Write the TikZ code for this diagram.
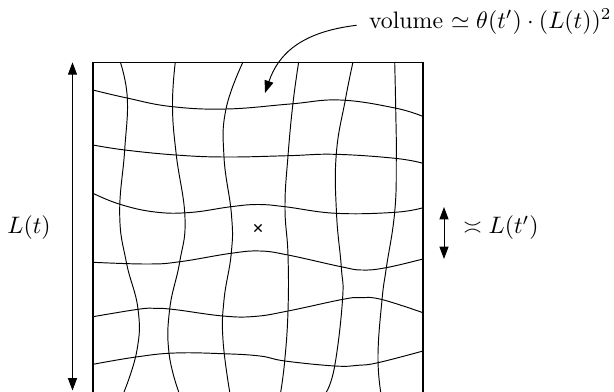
\documentclass[tikz,border=0pt]{standalone}
\usepackage{amsmath,amssymb}
\usetikzlibrary{arrows.meta,calc}
\begin{document}
\begin{tikzpicture}[x=0.42pt,y=-0.42pt,
  gridline/.style={line width=0.4pt,line join=round},
  boxline/.style={line width=0.65pt},
  dimarrow/.style={line width=0.4pt,{Triangle[length=5.2pt,width=3.8pt]}-{Triangle[length=5.2pt,width=3.8pt]}},
  pointer/.style={line width=0.4pt,-{Triangle[length=5.2pt,width=3.8pt]}},
  lbl/.style={inner sep=0pt,font=\normalsize}]
\useasboundingbox (0,0) rectangle (614,391);
% horizontal wavy lines
\draw[gridline] plot[smooth,tension=0.7] coordinates {(93,90) (127,98) (171,106.5) (226,109) (290,104) (340,100) (395,108) (423,116.5)};
\draw[gridline] plot[smooth,tension=0.7] coordinates {(93,145) (125,150) (176,155) (225,157) (288,155.7) (335,154.3) (395,158.3) (423,163.3)};
\draw[gridline] plot[smooth,tension=0.7] coordinates {(93,193.3) (120,204.3) (155,212) (190,212.5) (231,206.7) (258,204.5) (285,206.7) (336,213.3) (395,212.3) (423,207.7)};
\draw[gridline] plot[smooth,tension=0.7] coordinates {(93,262.3) (148,264) (180,261.7) (231,253.3) (260,251) (288,255) (341,266.7) (362,270) (386,267.7) (423,259)};
\draw[gridline] plot[smooth,tension=0.7] coordinates {(93,316.7) (138,309.3) (155,308.3) (175,309.6) (223,316) (255,316.4) (288,311) (343,299.3) (360,297.7) (381,299.3) (423,312.7)};
\draw[gridline] plot[smooth,tension=0.7] coordinates {(93,364.3) (136,357) (175,353) (223,353.7) (260,356) (285,361) (335,366) (358,365.3) (378,362.7) (423,351)};
% vertical wavy lines
\draw[gridline] plot[smooth,tension=0.75] coordinates {(120.3,62) (127.3,98) (124.7,150) (119.7,214) (126.3,262) (138,309) (137,350) (124,392)};
\draw[gridline] plot[smooth,tension=0.75] coordinates {(175.3,62) (172.5,106) (176.3,155) (185,218) (179.7,262) (169.7,309) (169,353) (178.7,392)};
\draw[gridline] plot[smooth,tension=0.75] coordinates {(243,62) (226,109) (224,157) (231.5,215) (231.3,253) (224,300) (223,340) (229.7,392)};
\draw[gridline] plot[smooth,tension=0.75] coordinates {(298.7,62) (293,103) (288,156) (285,207) (288,255) (288,311) (284.7,361) (280.7,392)};
\draw[gridline] plot[smooth,tension=0.75] coordinates {(353,62) (345.3,100) (336.3,154) (336.5,213) (341.3,267) (342.5,300) (334.7,366) (326.3,392)};
\draw[gridline] plot[smooth,tension=0.75] coordinates {(394.7,62) (395.7,108) (396.3,158) (394.7,212) (386.3,268) (382,300) (378,355) (380.7,392)};
% box (open at the bottom of the view)
\draw[boxline] (93,396) -- (93,62.3) -- (423,62.3) -- (423,396);
% centre mark
\coordinate (mark) at (258,228);
\draw[line width=0.55pt] ($(mark)+(-3.6,-3.6)$) -- ($(mark)+(3.6,3.6)$);
\draw[line width=0.55pt] ($(mark)+(-3.6,3.6)$) -- ($(mark)+(3.6,-3.6)$);
% labels
\node[lbl,anchor=base east] (vol) at (612,28) {volume $\simeq \theta(t')\cdot(L(t))^2$};
\node[lbl] (Lt) at (29,228) {$L(t)$};
\node[lbl,anchor=west] (Ltp) at (463,228) {$\asymp L(t')$};
% arrows
\coordinate (vtop) at (72.5,62.3);
\coordinate (vbot) at (72.5,390.5);
\draw[dimarrow] (vtop) -- (vbot);
\coordinate (stop) at (444,207);
\coordinate (sbot) at (444,259);
\draw[dimarrow] (stop) -- (sbot);
\coordinate (tip) at (265,93);
\coordinate (vstart) at ($(vol.west)+(-12,4)$);
\draw[pointer] (vstart) .. controls (300,32) and (278,55) .. (tip);
\end{tikzpicture}
\end{document}
